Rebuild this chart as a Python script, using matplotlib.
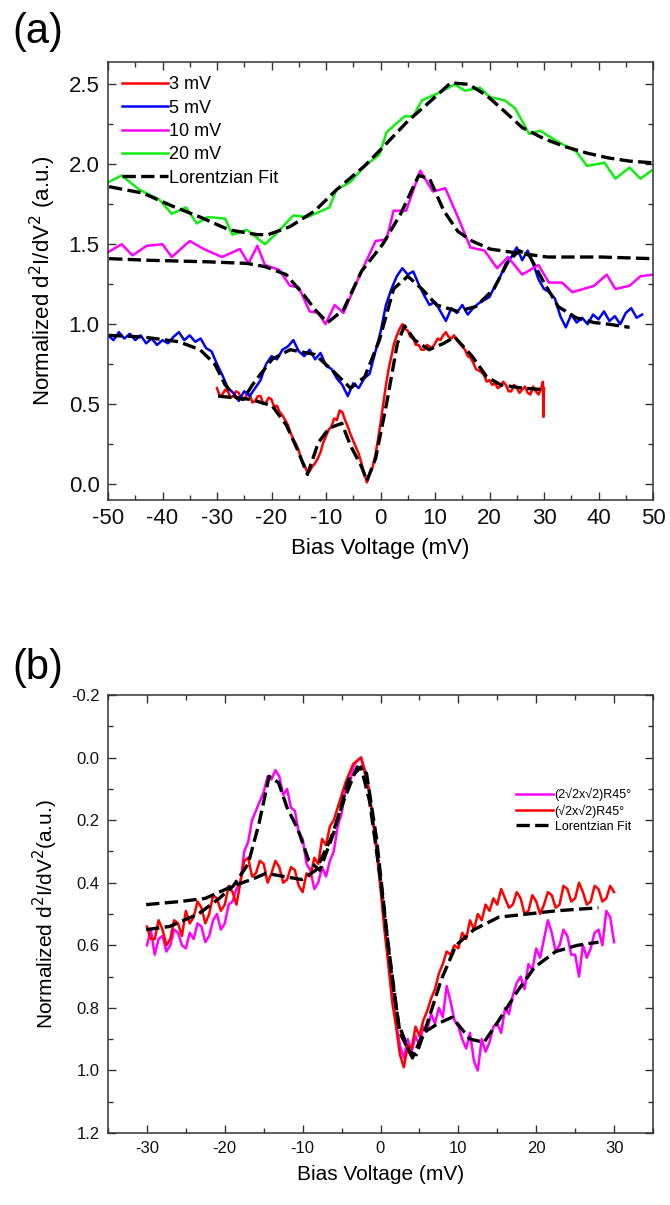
import numpy as np
import matplotlib
matplotlib.use("Agg")
import matplotlib.pyplot as plt
from matplotlib.ticker import MultipleLocator, FormatStrFormatter

plt.rcParams['font.family'] = ['Liberation Sans', 'DejaVu Sans']
plt.rcParams['axes.unicode_minus'] = False

# ---- panel (a) data ----
# 3 mV (red), -30 .. 29.5 in 0.5 mV steps, then the end spike
x3 = list(np.arange(-30, 30, 0.5)) + [29.8, 29.9, 30.0]
y3 = [0.60, 0.55, 0.56, 0.59, 0.58, 0.54, 0.55, 0.58, 0.57, 0.53,
      0.53, 0.56, 0.56, 0.51, 0.52, 0.55, 0.55, 0.50, 0.51, 0.54,
      0.53, 0.48, 0.49, 0.45, 0.43, 0.40, 0.37, 0.32, 0.28, 0.25,
      0.21, 0.15, 0.12, 0.08, 0.08, 0.11, 0.13, 0.16, 0.20, 0.26,
      0.30, 0.34, 0.36, 0.41, 0.40, 0.46, 0.45, 0.40, 0.36, 0.31,
      0.27, 0.23, 0.19, 0.13, 0.07, 0.01, 0.06, 0.10, 0.17, 0.27,
      0.38, 0.50, 0.62, 0.72, 0.80, 0.88, 0.93, 0.97, 1.00, 0.97,
      0.96, 0.92, 0.91, 0.87, 0.87, 0.84, 0.84, 0.87, 0.86, 0.85,
      0.88, 0.91, 0.90, 0.93, 0.95, 0.92, 0.91, 0.93, 0.90, 0.88,
      0.86, 0.84, 0.80, 0.79, 0.76, 0.72, 0.71, 0.70, 0.68, 0.64,
      0.65, 0.62, 0.63, 0.60, 0.61, 0.64, 0.62, 0.58, 0.58, 0.62,
      0.60, 0.57, 0.59, 0.61, 0.57, 0.56, 0.61, 0.58, 0.56, 0.60,
      0.64, 0.42, 0.60]
x3_fit = [-29.8, -23.9, -19.9, -17.3, -15.3, -13.4, -11.4, -9.4, -7.1, -5.5, -3.5, -2.5, -0.9,
          1.1, 3.1, 4.4, 6.3, 8.9, 11.6, 13.6, 16.8, 19.5, 22.1, 26.0, 30.0]
y3_fit = [0.55, 0.53, 0.49, 0.37, 0.22, 0.06, 0.26, 0.35, 0.38, 0.24, 0.11, 0.02, 0.16, 0.50,
          0.88, 0.99, 0.90, 0.84, 0.88, 0.92, 0.80, 0.67, 0.62, 0.60, 0.59]

# 5 mV (blue)
x5 = list(range(-50, 49))
y5 = [0.93, 0.90, 0.95, 0.91, 0.94, 0.90, 0.93, 0.88, 0.91, 0.87, 0.90, 0.88, 0.92, 0.95, 0.90,
      0.93, 0.89, 0.91, 0.85, 0.83, 0.75, 0.68, 0.60, 0.57, 0.52, 0.58, 0.55, 0.60, 0.65, 0.75,
      0.80, 0.78, 0.84, 0.86, 0.90, 0.83, 0.80, 0.84, 0.78, 0.82, 0.74, 0.72, 0.66, 0.62, 0.55,
      0.63, 0.60, 0.66, 0.69, 0.82, 0.95, 1.12, 1.22, 1.30, 1.35, 1.31, 1.33, 1.25, 1.18, 1.12,
      1.14, 1.08, 1.02, 1.10, 1.07, 1.12, 1.06, 1.10, 1.13, 1.15, 1.17, 1.24, 1.30, 1.38, 1.42,
      1.48, 1.40, 1.46, 1.38, 1.28, 1.22, 1.20, 1.16, 1.05, 0.98, 1.06, 1.01, 1.04, 1.00, 1.06,
      1.03, 1.08, 1.02, 1.05, 1.00, 1.07, 1.10, 1.04, 1.06]
x5_fit = [-49.8, -43.6, -37.0, -33.1, -30.4, -28.5, -26.5, -25.2, -23.3, -19.9, -16.6, -12.0,
          -8.8, -5.5, -2.9, -0.2, 2.4, 5.0, 7.6, 10.3, 14.2, 17.5, 20.8, 23.4, 25.4, 27.3, 30.0,
          32.6, 35.9, 39.2, 41.8, 45.7]
y5_fit = [0.93, 0.92, 0.89, 0.84, 0.75, 0.62, 0.54, 0.53, 0.63, 0.78, 0.84, 0.81, 0.71, 0.60,
          0.67, 0.90, 1.22, 1.30, 1.22, 1.12, 1.08, 1.11, 1.22, 1.39, 1.46, 1.43, 1.26, 1.11,
          1.04, 1.01, 1.00, 0.98]

# 10 mV (magenta)
x10 = [-50, -47.5, -45.5, -42.9, -40.0, -38.3, -35.0, -32.4, -29.1, -25.8, -24.2, -22.6, -21.2,
       -18.6, -16.6, -15.0, -13.0, -11.4, -10.1, -8.4, -6.8, -3.5, -0.9, 1.1, 2.4, 4.7, 7.3, 9.6,
       11.9, 14.2, 16.5, 19.1, 21.4, 23.4, 26.0, 29.0, 30.9, 33.3, 35.2, 39.2, 41.5, 43.1, 45.7,
       47.7, 50]
y10 = [1.45, 1.50, 1.43, 1.49, 1.50, 1.42, 1.52, 1.47, 1.42, 1.47, 1.38, 1.49, 1.37, 1.34, 1.24,
       1.23, 1.08, 1.07, 1.00, 1.12, 1.07, 1.33, 1.52, 1.53, 1.71, 1.71, 1.96, 1.83, 1.85, 1.67,
       1.48, 1.46, 1.35, 1.42, 1.31, 1.37, 1.26, 1.26, 1.20, 1.24, 1.31, 1.22, 1.24, 1.30, 1.31]
x10_fit = [-49.8, -42.9, -31.7, -24.5, -21.2, -17.3, -14.0, -12.0, -9.7, -6.8, -3.5, 0.4, 3.7,
           7.0, 9.0, 11.6, 14.2, 16.8, 20.1, 24.1, 30.6, 40.5, 49.7]
y10_fit = [1.41, 1.40, 1.39, 1.38, 1.36, 1.31, 1.18, 1.09, 1.01, 1.09, 1.33, 1.50, 1.69, 1.93,
           1.91, 1.71, 1.58, 1.52, 1.47, 1.45, 1.42, 1.42, 1.41]

# 20 mV (green)
x20 = [-49.8, -47.5, -44.2, -40.6, -38.3, -35.7, -33.7, -31.7, -28.5, -27.2, -24.5, -21.2,
       -19.3, -16.0, -13.4, -9.4, -8.1, -5.5, -2.9, -0.2, 1.1, 4.4, 6.0, 7.6, 10.9, 13.6, 15.5,
       18.2, 20.1, 22.8, 24.7, 27.3, 29.3, 32.6, 35.9, 37.9, 41.1, 43.1, 45.7, 47.7, 49.7]
y20 = [1.89, 1.93, 1.84, 1.78, 1.69, 1.73, 1.63, 1.67, 1.66, 1.56, 1.59, 1.50, 1.56, 1.68,
       1.67, 1.73, 1.84, 1.89, 1.99, 2.06, 2.20, 2.30, 2.30, 2.40, 2.45, 2.50, 2.46, 2.48, 2.42,
       2.40, 2.35, 2.19, 2.21, 2.14, 2.08, 1.99, 2.01, 1.91, 1.98, 1.91, 1.96]
x20_fit = [-49.8, -43.6, -38.3, -33.1, -27.8, -22.6, -20.6, -16.6, -12.0, -8.1, -2.9, 1.1, 5.0,
           9.0, 12.9, 16.2, 19.5, 22.8, 26.0, 30.0, 33.9, 37.9, 41.8, 45.7, 49.7]
y20_fit = [1.86, 1.82, 1.74, 1.67, 1.59, 1.56, 1.56, 1.61, 1.71, 1.84, 1.99, 2.13, 2.27, 2.39,
           2.51, 2.50, 2.43, 2.33, 2.23, 2.16, 2.11, 2.07, 2.04, 2.02, 2.01]

# ---- panel (b) data, -30 .. 30 mV in 0.5 mV steps ----
xb = np.arange(-30, 30.5, 0.5)
y_2r2 = [0.60, 0.55, 0.63, 0.58, 0.57, 0.62, 0.60, 0.55, 0.56, 0.60,
         0.61, 0.56, 0.58, 0.53, 0.54, 0.59, 0.57, 0.52, 0.50, 0.55,
         0.53, 0.47, 0.46, 0.42, 0.40, 0.30, 0.27, 0.20, 0.17, 0.14,
         0.11, 0.06, 0.07, 0.04, 0.06, 0.12, 0.10, 0.16, 0.17, 0.24,
         0.26, 0.34, 0.36, 0.42, 0.40, 0.35, 0.38, 0.33, 0.30, 0.22,
         0.18, 0.10, 0.09, 0.03, 0.01, 0.00, 0.04, 0.10, 0.20, 0.28,
         0.40, 0.52, 0.65, 0.76, 0.85, 0.92, 0.96, 0.90, 0.94, 0.89,
         0.92, 0.86, 0.87, 0.82, 0.85, 0.80, 0.83, 0.73, 0.78, 0.84,
         0.86, 0.90, 0.93, 0.88, 0.97, 1.00, 0.90, 0.94, 0.91, 0.86,
         0.85, 0.88, 0.80, 0.82, 0.76, 0.72, 0.70, 0.74, 0.66, 0.68,
         0.61, 0.64, 0.58, 0.52, 0.56, 0.62, 0.60, 0.55, 0.57, 0.63,
         0.63, 0.70, 0.60, 0.64, 0.61, 0.56, 0.55, 0.60, 0.49, 0.51,
         0.59]
y_r2 = [0.54, 0.58, 0.58, 0.52, 0.55, 0.60, 0.58, 0.52, 0.53, 0.57,
        0.49, 0.53, 0.51, 0.46, 0.48, 0.53, 0.50, 0.44, 0.45, 0.49,
        0.47, 0.41, 0.43, 0.47, 0.40, 0.33, 0.32, 0.38, 0.37, 0.33,
        0.34, 0.40, 0.37, 0.33, 0.35, 0.40, 0.39, 0.35, 0.36, 0.41,
        0.43, 0.37, 0.38, 0.32, 0.34, 0.26, 0.28, 0.22, 0.20, 0.16,
        0.12, 0.08, 0.05, 0.02, 0.01, 0.00, 0.05, 0.10, 0.19, 0.30,
        0.42, 0.55, 0.66, 0.78, 0.86, 0.95, 0.99, 0.92, 0.93, 0.86,
        0.89, 0.84, 0.81, 0.77, 0.74, 0.69, 0.66, 0.62, 0.63, 0.60,
        0.61, 0.56, 0.58, 0.52, 0.55, 0.50, 0.52, 0.47, 0.49, 0.45,
        0.47, 0.42, 0.45, 0.48, 0.47, 0.43, 0.45, 0.50, 0.49, 0.44,
        0.46, 0.50, 0.47, 0.43, 0.44, 0.48, 0.47, 0.41, 0.42, 0.46,
        0.45, 0.40, 0.43, 0.47, 0.46, 0.41, 0.42, 0.46, 0.45, 0.41,
        0.43]
x_2r2_fit = [-30.1, -27.1, -23.4, -20.7, -18.9, -17.0, -15.6, -14.3, -13.1, -12.0, -10.6, -9.2,
             -7.8, -6.0, -4.1, -2.5, -1.4, 0.0, 1.4, 2.5, 4.1, 5.5, 7.4, 9.2, 11.5, 13.3, 15.2,
             17.5, 19.8, 22.5, 25.3, 28.0]
y_2r2_fit = [0.55, 0.54, 0.50, 0.45, 0.41, 0.34, 0.21, 0.06, 0.08, 0.16, 0.23, 0.33, 0.36,
             0.24, 0.07, 0.03, 0.14, 0.39, 0.69, 0.88, 0.96, 0.88, 0.85, 0.83, 0.90, 0.91, 0.84,
             0.75, 0.67, 0.62, 0.60, 0.59]
x_r2_fit = [-30.1, -25.7, -22.5, -18.9, -16.6, -14.7, -12.4, -10.1, -8.3, -6.4, -4.6, -3.0,
            -1.8, -0.5, 0.9, 2.3, 3.7, 4.6, 6.0, 7.8, 9.7, 12.0, 15.2, 18.9, 22.5, 28.0]
y_r2_fit = [0.47, 0.46, 0.45, 0.41, 0.39, 0.37, 0.38, 0.39, 0.36, 0.26, 0.13, 0.03, 0.05,
            0.26, 0.58, 0.85, 0.94, 0.95, 0.85, 0.71, 0.60, 0.55, 0.51, 0.50, 0.49, 0.48]

fig = plt.figure(figsize=(6.7, 12.05), dpi=100)

spine_c = '#333333'
dash = (4, 1.6)


def style_axis(ax, fs):
    for s in ax.spines.values():
        s.set_linewidth(1.1)
        s.set_color(spine_c)
    ax.tick_params(which='both', direction='in', top=True, right=True,
                   labelsize=fs, colors=spine_c, labelcolor='#111111')
    ax.tick_params(which='major', length=6, width=1.0, pad=6)
    ax.tick_params(which='minor', length=3.5, width=1.0)


# ---- (a) ----
ax1 = fig.add_axes([108/670, 1 - 500/1205, 545/670, 438/1205])
ax1.plot(x3, y3, color='#ff0000', lw=1.8, label='3 mV')
ax1.plot(x5, y5, color='#0000ff', lw=1.8, label='5 mV')
ax1.plot(x10, y10, color='#ff00ff', lw=1.8, label='10 mV')
ax1.plot(x20, y20, color='#11ee11', lw=1.8, label='20 mV')
ax1.plot(x20_fit, y20_fit, color='black', lw=2.4, dashes=dash, label='Lorentzian Fit')
ax1.plot(x10_fit, y10_fit, color='black', lw=2.4, dashes=dash)
ax1.plot(x5_fit, y5_fit, color='black', lw=2.4, dashes=dash)
ax1.plot(x3_fit, y3_fit, color='black', lw=2.4, dashes=dash)
ax1.set_xlim(-50, 50)
ax1.set_ylim(-0.1, 2.64)
ax1.xaxis.set_major_locator(MultipleLocator(10))
ax1.xaxis.set_minor_locator(MultipleLocator(5))
ax1.yaxis.set_major_locator(MultipleLocator(0.5))
ax1.yaxis.set_minor_locator(MultipleLocator(0.25))
ax1.yaxis.set_major_formatter(FormatStrFormatter('%.1f'))
style_axis(ax1, 16)
ax1.set_xlabel('Bias Voltage (mV)', fontsize=16, labelpad=6)
ax1.set_ylabel('Normalized d$^2$I/dV$^2$ (a.u.)', fontsize=16, labelpad=8)
ax1.legend(loc='upper left', frameon=False, fontsize=13, handlelength=2.5,
           handletextpad=0.1, labelspacing=0.35, borderaxespad=0.4)
fig.text(12/670, 1 - 32/1205, '(a)', fontsize=30, va='center', ha='left')

# ---- (b) ----
ax2 = fig.add_axes([108/670, 1 - 1133/1205, 545/670, 438/1205])
ax2.plot(xb, y_2r2, color='#ff00ff', lw=1.8, label='(2\u221a2x\u221a2)R45\u00b0')
ax2.plot(xb, y_r2, color='#ff0000', lw=1.8, label='(\u221a2x\u221a2)R45\u00b0')
ax2.plot(x_2r2_fit, y_2r2_fit, color='black', lw=2.4, dashes=dash, label='Lorentzian Fit')
ax2.plot(x_r2_fit, y_r2_fit, color='black', lw=2.4, dashes=dash)
ax2.set_xlim(-35, 35)
ax2.set_ylim(1.2, -0.2)
ax2.xaxis.set_major_locator(MultipleLocator(10))
ax2.xaxis.set_minor_locator(MultipleLocator(5))
ax2.yaxis.set_major_locator(MultipleLocator(0.2))
ax2.yaxis.set_minor_locator(MultipleLocator(0.1))
ax2.yaxis.set_major_formatter(FormatStrFormatter('%.1f'))
style_axis(ax2, 12)
ax2.set_xlabel('Bias Voltage (mV)', fontsize=15, labelpad=6)
ax2.set_ylabel('Normalized d$^2$I/dV$^2$(a.u.)', fontsize=15, labelpad=8)
ax2.legend(loc='upper right', bbox_to_anchor=(0.97, 0.80), frameon=False, fontsize=9,
           handlelength=3.0, handletextpad=0.1, labelspacing=0.25, borderaxespad=0)
fig.text(12/670, 1 - 668/1205, '(b)', fontsize=30, va='center', ha='left')

fig.savefig('out.png', dpi=100)
